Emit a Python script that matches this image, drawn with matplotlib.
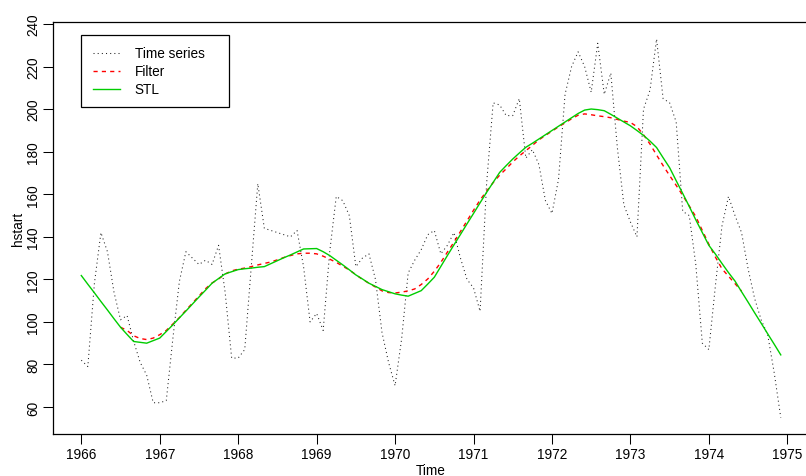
import matplotlib
matplotlib.use("Agg")
import matplotlib.pyplot as plt
import numpy as np
from matplotlib.patches import Rectangle
from matplotlib.lines import Line2D

# monthly housing starts, Jan 1966 - Dec 1974
hstart = [82, 79, 118, 142, 133, 114, 101, 103, 91, 81, 75, 62,
          62, 63, 92, 119, 133, 130, 127, 129, 127, 136, 114, 83,
          83, 87, 126, 165, 144, 143, 142, 141, 140, 143, 126, 100,
          104, 96, 133, 159, 157, 150, 126, 130, 132, 120, 95, 81,
          70, 92, 123, 129, 134, 141, 143, 132, 136, 142, 130, 120,
          116, 105, 165, 203, 202, 197, 197, 205, 177, 181, 174, 157,
          151, 167, 207, 220, 227, 220, 208, 231, 207, 217, 182, 155,
          147, 140, 200, 209, 233, 205, 203, 194, 152, 150, 127, 90,
          87, 117, 145, 159, 150, 142, 125, 111, 101, 94, 76, 55]

# 2x12 moving average, defined from Jul 1966 to Jun 1974
filt = [97.5, 96.0, 93.5, 92.2, 91.7, 92.4,
        94.0, 96.0, 99.0, 102.0, 105.5, 108.8, 112.2, 115.6, 118.3, 120.2, 122.5, 124.0,
        124.8, 125.3, 126.0, 126.8, 127.5, 128.2, 129.2, 130.3, 131.2, 132.0, 132.3, 132.3,
        132.0, 130.9, 129.5, 128.0, 126.2, 124.4, 122.2, 120.0, 118.2, 116.4, 114.6, 113.8,
        113.6, 114.0, 114.6, 115.5, 117.6, 120.2, 123.8, 128.0, 132.8, 137.5, 142.5, 147.5,
        152.5, 157.3, 161.5, 165.5, 169.0, 172.0, 175.2, 178.0, 180.5, 183.0, 185.6, 187.7,
        189.7, 191.7, 193.6, 195.5, 197.2, 197.8, 197.4, 196.9, 196.5, 196.0, 195.2, 194.4,
        193.8, 191.8, 188.0, 183.6, 178.5, 173.5, 168.8, 164.2, 159.5, 154.5, 149.5, 143.0,
        136.5, 130.5, 125.0, 121.5, 118.0, 114.5]

# STL trend component
stl = [121.8, 117.7, 113.7, 109.6, 105.6, 101.5, 97.5, 94.1, 90.8, 90.4, 90.0, 91.2,
       92.4, 95.5, 98.6, 101.9, 105.1, 108.4, 111.7, 114.9, 118.2, 120.4, 122.6, 123.6,
       124.6, 125.0, 125.3, 125.7, 126.0, 127.4, 128.8, 130.2, 131.5, 132.9, 134.3, 134.4,
       134.5, 133.0, 131.2, 129.0, 126.8, 124.5, 122.1, 120.2, 118.2, 116.7, 115.2, 114.2,
       113.2, 112.6, 112.1, 113.4, 114.7, 117.8, 121.0, 126.1, 131.2, 136.2, 141.1, 146.1,
       151.0, 156.0, 160.9, 165.6, 170.3, 173.5, 176.6, 179.4, 182.1, 184.0, 186.0, 188.0,
       190.0, 192.0, 194.0, 196.0, 198.0, 199.6, 200.1, 199.8, 199.3, 197.6, 195.8, 194.0,
       192.2, 190.0, 187.7, 185.0, 182.0, 177.2, 172.5, 166.4, 160.4, 154.3, 148.0, 142.0,
       136.0, 131.9, 127.5, 123.2, 119.2, 114.2, 109.3, 104.3, 99.4, 94.4, 89.5, 84.5]

start_year = 1966
year_ticks = list(range(1966, 1976))
y_ticks = [60, 80, 100, 120, 140, 160, 180, 200, 220, 240]

t = start_year + np.arange(len(hstart)) / 12.0

W, H = 806, 477
plt.rcParams['font.family'] = ['Liberation Sans', 'DejaVu Sans']

fig = plt.figure(figsize=(W / 100, H / 100), dpi=100, facecolor='w')
# plot region in pixels: left 53.3, right 808.8 (cropped), top 22.6, bottom 435
ax = fig.add_axes([53.3 / W, 1 - 435 / H, (808.8 - 53.3) / W, (435 - 22.6) / H])

ax.plot(t, hstart, color='#222222', lw=0.75, linestyle=(0, (1, 3)))
ax.plot(t[6:6 + len(filt)], filt, color='red', lw=1.0, linestyle=(0, (3, 3)))
ax.plot(t, stl, color='#00CD00', lw=1.0)

ax.set_xlim(1965.643, 1975.274)
ax.set_ylim(47.3, 241.2)
ax.set_xticks(year_ticks)
ax.set_yticks(y_ticks)
ax.tick_params(direction='out', length=7, width=0.75, labelsize=9.8, pad=2.5)
ax.tick_params(axis='y', labelrotation=90)
for lab in ax.get_yticklabels():
    lab.set_va('center')
for sp in ax.spines.values():
    sp.set_linewidth(0.9)
    sp.set_color('black')

ax.set_xlabel('Time', fontsize=9.8, labelpad=1)
ax.set_ylabel('hstart', fontsize=9.8, labelpad=1)

# legend drawn by hand in pixel coordinates
def fx(px):
    return px / W

def fy(py):
    return 1 - py / H

fig.add_artist(Rectangle((fx(80.7), fy(107.7)), fx(229.3) - fx(80.7), fy(36) - fy(107.7),
                         transform=fig.transFigure, fill=False, edgecolor='black', lw=0.9))
rows = [('Time series', 54.3, dict(color='#222222', lw=0.75, linestyle=(0, (1, 3)))),
        ('Filter', 72.0, dict(color='red', lw=1.0, linestyle=(0, (3, 3)))),
        ('STL', 89.7, dict(color='#00CD00', lw=1.0))]
for name, py, style in rows:
    fig.add_artist(Line2D([fx(93.3), fx(120)], [fy(py), fy(py)], transform=fig.transFigure, **style))
    fig.text(fx(134.7), fy(py), name, fontsize=9.8, va='center', ha='left')

fig.savefig('out.png', dpi=100)
